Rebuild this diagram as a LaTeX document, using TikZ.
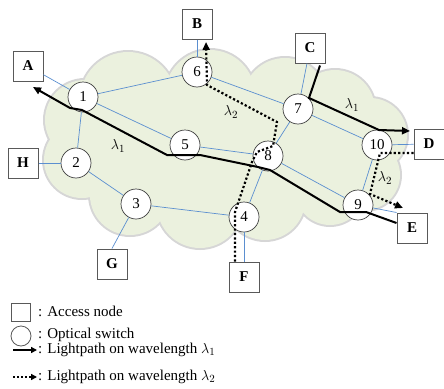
\documentclass[tikz,border=0pt]{standalone}
\usepackage{fontspec}
\setmainfont{Liberation Serif}
\usetikzlibrary{arrows.meta}
\definecolor{cloudfill}{HTML}{EBF1DE}
\definecolor{cloudline}{HTML}{D6D6D6}
\definecolor{linkblue}{HTML}{5B8FD0}
\begin{document}
\begin{tikzpicture}[x=1pt,y=-1pt,
  sw/.style={circle,draw=black!75,line width=0.7pt,fill=white,minimum size=30pt,inner sep=0pt,font=\fontsize{15}{15}\selectfont},
  acc/.style={rectangle,draw=black!65,line width=1pt,fill=white,minimum size=30pt,inner sep=0pt,font=\fontsize{15}{15}\selectfont\bfseries},
  link/.style={draw=linkblue,line width=0.7pt},
  lpone/.style={line width=2pt,line join=miter,-{Triangle[length=8pt,width=7pt]}},
  lptwo/.style={line width=2.2pt,dash pattern=on 2.2pt off 2.2pt,-{Triangle[length=8pt,width=7pt]}},
  lam/.style={font=\fontsize{15}{15}\selectfont,inner sep=0pt},
  legtext/.style={anchor=west,inner sep=0pt,font=\fontsize{15}{15}\selectfont}]
\useasboundingbox (0,0) rectangle (444,388);
% cloud
\def\cloudbumps{128/100/48,85/120/40,82/160/38,130/195/40,200/205/43,265/200/40,330/190/35,365/175/35,370/135/37,335/110/40,285/100/42,210/95/45}
\foreach \cx/\cy/\r in \cloudbumps { \fill[cloudline] (\cx,\cy) circle[radius=\r pt+2pt]; }
\foreach \cx/\cy/\r in \cloudbumps { \fill[cloudfill] (\cx,\cy) circle[radius=\r pt]; }
\fill[cloudfill] (90,100) rectangle (360,200);
% switches
\node[sw] (n1) at (83,97) {1};
\node[sw] (n2) at (76,163) {2};
\node[sw] (n3) at (136,204) {3};
\node[sw] (n4) at (244,217) {4};
\node[sw] (n5) at (185,145) {5};
\node[sw] (n6) at (197,72) {6};
\node[sw] (n7) at (298,109) {7};
\node[sw] (n8) at (268,156) {8};
\node[sw] (n9) at (358,205) {9};
\node[sw] (n10) at (377,145) {10};
% access nodes
\node[acc] (A) at (28,66) {A};
\node[acc] (B) at (197,24) {B};
\node[acc] (C) at (310,48) {C};
\node[acc] (D) at (429,144) {D};
\node[acc] (E) at (412,228) {E};
\node[acc] (F) at (244,277) {F};
\node[acc] (G) at (112,264) {G};
\node[acc] (H) at (23,163) {H};
% links
\draw[link] (A) -- (n1);
\draw[link] (B) -- (n6);
\draw[link] (C) -- (n7);
\draw[link] (D) -- (n10);
\draw[link] (n9) -- (E.north west);
\draw[link] (F) -- (n4);
\draw[link] (G.north) -- (n3);
\draw[link] (H) -- (n2);
\draw[link] (n1) -- (n2);
\draw[link] (n1) -- (n6);
\draw[link] (n1) -- (n5);
\draw[link] (n2) -- (n3);
\draw[link] (n3) -- (n4);
\draw[link] (n4) -- (n8);
\draw[link] (n5) -- (n8);
\draw[link] (n6) -- (n7);
\draw[link] (n7) -- (n8);
\draw[link] (n7) -- (n10);
\draw[link] (n8) -- (n9);
\draw[link] (n10) -- (n9);
% lightpaths
\coordinate (tA) at (33,87);
\coordinate (tD) at (410,131);
\coordinate (tB) at (206,42);
\coordinate (tE) at (403,208);
\draw[lpone] ([yshift=5pt]E.west) -- (366,212) -- (340,212) -- (270,170) -- (258,167) -- (200,155) -- (167,155) -- (82,110) -- (70,108) -- (tA);
\draw[lpone] ([xshift=10pt,yshift=-2pt]C.south) -- (309,98) -- (379,130) -- (tD);
\draw[lptwo] ([xshift=-9pt]F.north) -- (235,212) -- (252,162) -- (257,152) -- (273,146) -- (277,122) -- (207,85) -- (tB);
\draw[lptwo] ([yshift=-9pt]D.west) -- (380,153) -- (370,194) -- (tE);
\node[lam] (l1a) at (118,146) {$\lambda_1$};
\node[lam] (l1b) at (352,105) {$\lambda_1$};
\node[lam] (l2a) at (231,112) {$\lambda_2$};
\node[lam] (l2b) at (385,178) {$\lambda_2$};
% legend
\node[rectangle,draw=black!65,line width=0.8pt,minimum width=19pt,minimum height=18pt,inner sep=0pt] (legbox) at (21,312) {};
\node[legtext] (legt1) at (38,311) {: Access node};
\node[circle,draw=black!65,line width=0.8pt,minimum size=20pt,inner sep=0pt] (legcirc) at (21,336) {};
\node[legtext] (legt2) at (38,335) {: Optical switch};
\coordinate (la1) at (13,350);
\coordinate (la2) at (37,350);
\draw[line width=1.8pt,-{Triangle[length=6pt,width=6pt]}] (la1) -- (la2);
\node[legtext] (legt3) at (38,350) {: Lightpath on wavelength $\lambda_1$};
\coordinate (lb1) at (13,377);
\coordinate (lb2) at (37,377);
\draw[line width=1.8pt,dash pattern=on 2pt off 2pt,-{Triangle[length=6pt,width=6pt]}] (lb1) -- (lb2);
\node[legtext] (legt4) at (38,377) {: Lightpath on wavelength $\lambda_2$};
\end{tikzpicture}
\end{document}
